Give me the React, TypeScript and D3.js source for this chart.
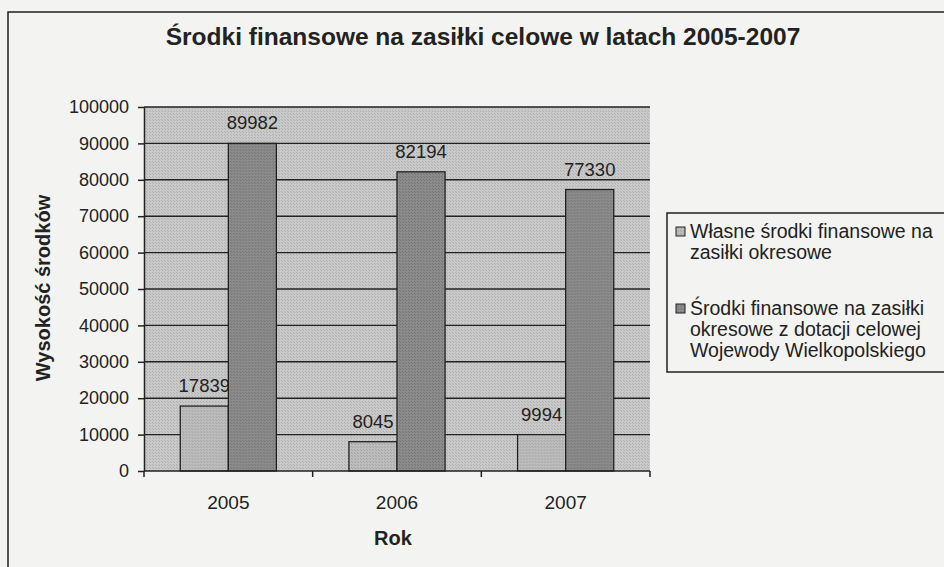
import { useEffect, useRef } from 'react';
import * as d3 from 'd3';

const years = ['2005', '2006', '2007'];
const ownFunds = [17839, 8045, 9994];
const grantFunds = [89982, 82194, 77330];
const yTicks = [0, 10000, 20000, 30000, 40000, 50000, 60000, 70000, 80000, 90000, 100000];
const seriesNames = [
  ['Własne środki finansowe na', 'zasiłki okresowe'],
  ['Środki finansowe na zasiłki', 'okresowe z dotacji celowej', 'Wojewody Wielkopolskiego'],
];

const FONT = 'Arial, "Liberation Sans", Helvetica, sans-serif';

const App = () => {
  const ref = useRef(null);

  useEffect(() => {
    if (!ref.current) return;
    const W = 944, H = 567;
    const plot = { left: 144, right: 650, top: 107, bottom: 471 };

    d3.select(ref.current).selectAll('svg').remove();
    const svg = d3.select(ref.current)
      .append('svg')
      .attr('width', W)
      .attr('height', H)
      .style('display', 'block')
      .style('font-family', FONT);

    // halftone-ish fills like the scan
    const defs = svg.append('defs');
    const pat = (id, base, dot) => {
      const p = defs.append('pattern').attr('id', id)
        .attr('width', 3).attr('height', 3).attr('patternUnits', 'userSpaceOnUse');
      p.append('rect').attr('width', 3).attr('height', 3).attr('fill', base);
      p.append('rect').attr('width', 1).attr('height', 1).attr('fill', dot);
      p.append('rect').attr('x', 2).attr('y', 2).attr('width', 1).attr('height', 1).attr('fill', dot);
    };
    pat('bgPat', '#c9c9c9', '#b0b0b0');
    pat('lightPat', '#bdbdbd', '#a3a3a3');
    pat('darkPat', '#8c8c8c', '#747474');

    svg.append('rect').attr('width', W).attr('height', H).attr('fill', '#f3f3f1');

    // chart frame
    svg.append('path')
      .attr('d', `M8,${H + 2}V12H${W + 2}`)
      .attr('fill', 'none')
      .attr('stroke', '#222')
      .attr('stroke-width', 1.5);

    svg.append('text')
      .attr('x', 483)
      .attr('y', 45)
      .attr('text-anchor', 'middle')
      .style('font-weight', 'bold')
      .style('font-size', '24.5px')
      .attr('fill', '#222')
      .text('Środki finansowe na zasiłki celowe w latach 2005-2007');

    const x0 = d3.scaleBand()
      .domain(years)
      .range([plot.left, plot.right])
      .paddingInner(0.43)
      .paddingOuter(0.215);
    const x1 = d3.scaleBand()
      .domain(['own', 'grant'])
      .range([0, x0.bandwidth()]);
    const y = d3.scaleLinear()
      .domain([0, 100000])
      .range([plot.bottom, plot.top]);

    // plot background
    svg.append('rect')
      .attr('x', plot.left)
      .attr('y', plot.top)
      .attr('width', plot.right - plot.left)
      .attr('height', plot.bottom - plot.top)
      .attr('fill', 'url(#bgPat)');

    // gridlines
    svg.append('g')
      .selectAll('line')
      .data(yTicks.filter(d => d > 0))
      .join('line')
      .attr('x1', plot.left)
      .attr('x2', plot.right)
      .attr('y1', d => y(d))
      .attr('y2', d => y(d))
      .attr('stroke', '#222')
      .attr('stroke-width', 1.4);

    const rows = years.map((yr, i) => ({ yr, own: ownFunds[i], grant: grantFunds[i] }));

    const groups = svg.append('g')
      .selectAll('g')
      .data(rows)
      .join('g')
      .attr('transform', d => `translate(${x0(d.yr)},0)`);

    const series = [
      { key: 'own', fill: 'url(#lightPat)' },
      { key: 'grant', fill: 'url(#darkPat)' },
    ];

    series.forEach(s => {
      groups.append('rect')
        .attr('x', x1(s.key))
        .attr('y', d => y(d[s.key]))
        .attr('width', x1.bandwidth())
        .attr('height', d => y(0) - y(d[s.key]))
        .attr('fill', s.fill)
        .attr('stroke', '#222')
        .attr('stroke-width', 1.3);
      groups.append('text')
        .attr('x', x1(s.key) + x1.bandwidth() / 2)
        .attr('y', d => y(d[s.key]) - 14)
        .attr('text-anchor', 'middle')
        .style('font-size', '18.5px')
        .attr('fill', '#222')
        .text(d => d[s.key]);
    });

    // y axis
    const yAxis = svg.append('g')
      .attr('transform', `translate(${plot.left},0)`)
      .call(d3.axisLeft(y).tickValues(yTicks).tickSize(6).tickSizeOuter(0).tickPadding(9).tickFormat(d3.format('d')));
    yAxis.selectAll('text').style('font-size', '18px').style('font-family', FONT).attr('fill', '#222');
    yAxis.selectAll('line, path').attr('stroke', '#222').attr('stroke-width', 1.5);

    // x axis: ticks at category boundaries
    const xAxis = svg.append('g');
    xAxis.append('line')
      .attr('x1', plot.left).attr('x2', plot.right)
      .attr('y1', y(0)).attr('y2', y(0))
      .attr('stroke', '#222').attr('stroke-width', 1.5);
    const step = x0.step();
    xAxis.selectAll('line.tick')
      .data(d3.range(years.length + 1))
      .join('line')
      .attr('class', 'tick')
      .attr('x1', i => plot.left + i * step)
      .attr('x2', i => plot.left + i * step)
      .attr('y1', y(0))
      .attr('y2', y(0) + 6)
      .attr('stroke', '#222').attr('stroke-width', 1.5);
    xAxis.selectAll('text')
      .data(years)
      .join('text')
      .attr('x', d => x0(d) + x0.bandwidth() / 2)
      .attr('y', 509)
      .attr('text-anchor', 'middle')
      .style('font-size', '19px')
      .attr('fill', '#222')
      .text(d => d);

    svg.append('text')
      .attr('x', (plot.left + plot.right) / 2 - 4)
      .attr('y', 545)
      .attr('text-anchor', 'middle')
      .style('font-weight', 'bold')
      .style('font-size', '20px')
      .attr('fill', '#222')
      .text('Rok');

    svg.append('text')
      .attr('transform', 'translate(50,288) rotate(-90)')
      .attr('text-anchor', 'middle')
      .style('font-weight', 'bold')
      .style('font-size', '20px')
      .attr('fill', '#222')
      .text('Wysokość środków');

    // legend
    const lg = svg.append('g');
    lg.append('rect')
      .attr('x', 667).attr('y', 213)
      .attr('width', 300).attr('height', 159)
      .attr('fill', 'none')
      .attr('stroke', '#222').attr('stroke-width', 1.5);
    const itemBase = [238, 315];
    seriesNames.forEach((lines, i) => {
      lg.append('rect')
        .attr('x', 676).attr('y', itemBase[i] - 11)
        .attr('width', 9).attr('height', 9)
        .attr('fill', series[i].fill)
        .attr('stroke', '#222').attr('stroke-width', 1);
      lines.forEach((t, j) => {
        lg.append('text')
          .attr('x', 690)
          .attr('y', itemBase[i] + j * 21)
          .style('font-size', '19.5px')
          .attr('fill', '#222')
          .text(t);
      });
    });
  }, []);

  return <div ref={ref} style={{ position: 'absolute', left: 0, top: 0 }} />;
};

export default App;
